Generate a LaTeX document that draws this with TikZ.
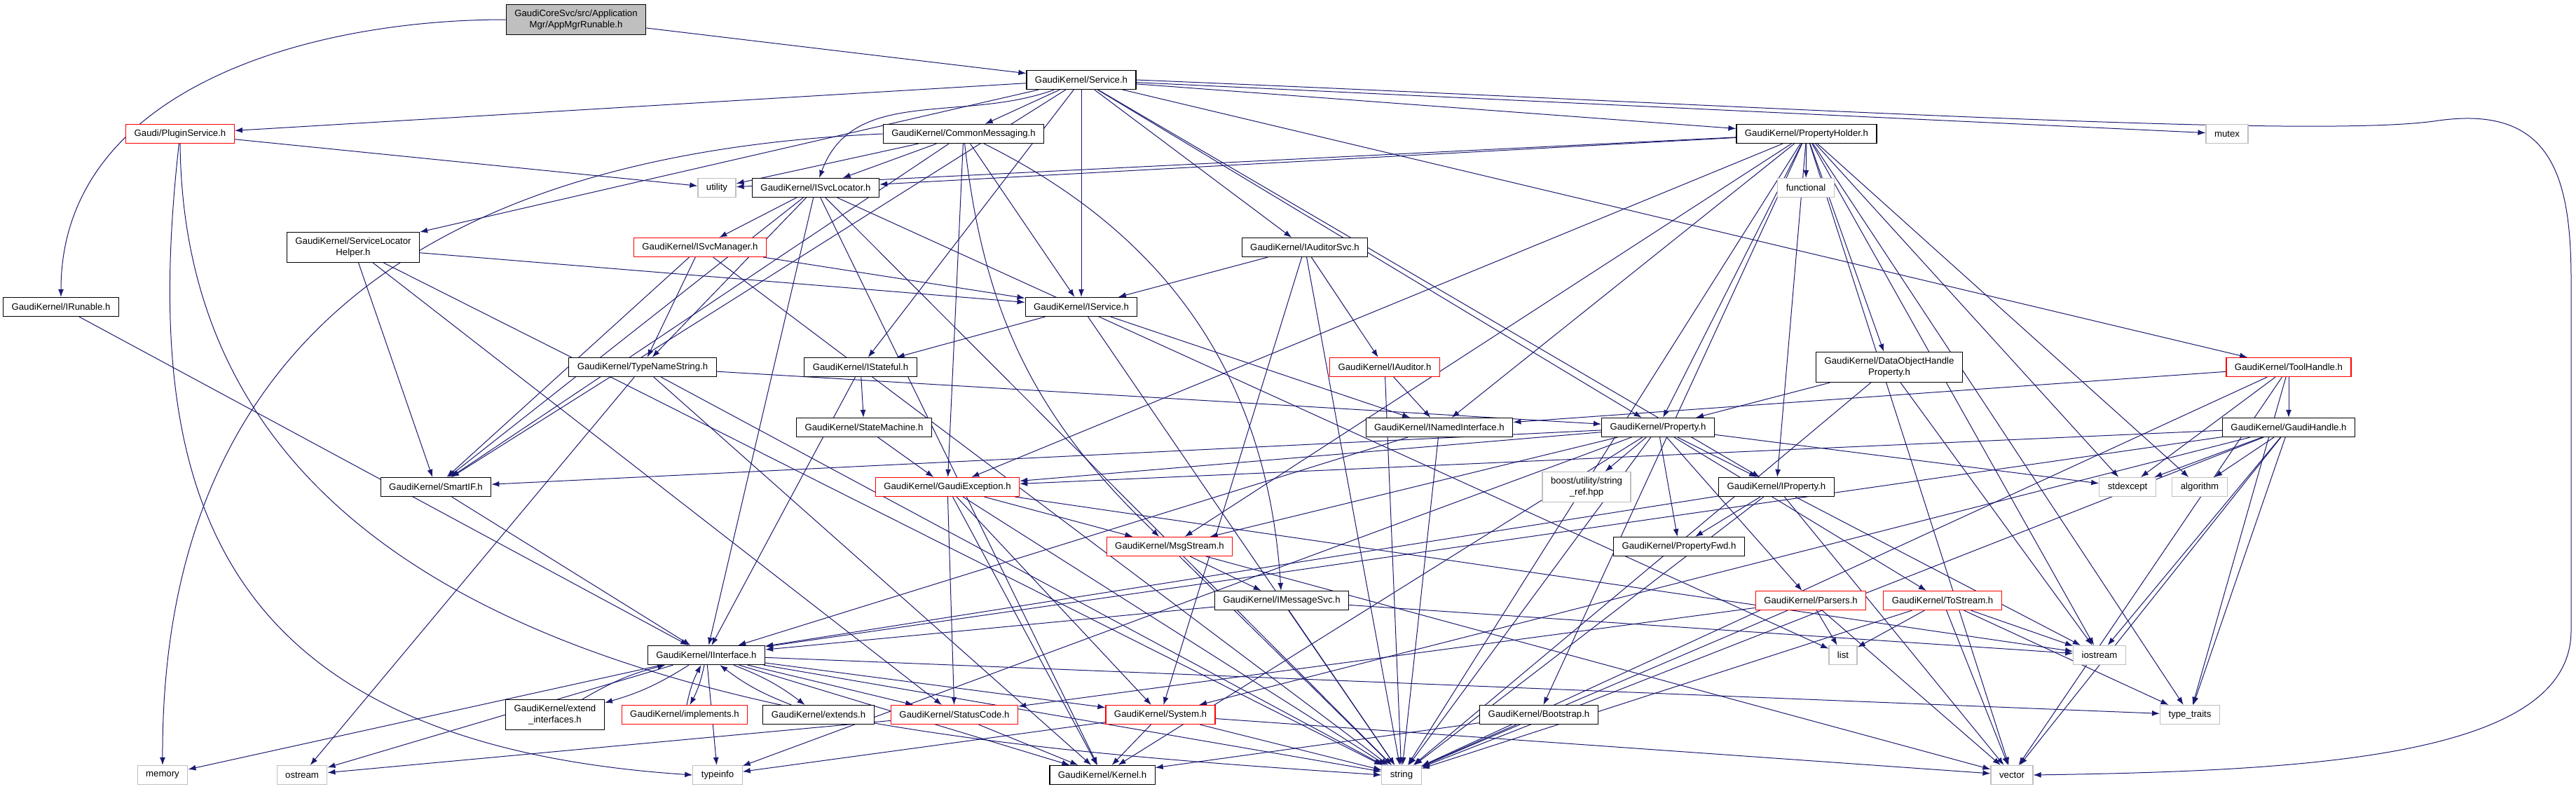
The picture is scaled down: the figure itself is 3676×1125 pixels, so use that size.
\documentclass[tikz,border=0pt]{standalone}
\usepackage{fontspec}
\setmainfont{Liberation Sans}
\usetikzlibrary{arrows.meta}
\definecolor{edgeblue}{RGB}{25,25,112}
\definecolor{boxgray}{RGB}{191,191,191}
\pgfdeclarelayer{edges}
\pgfsetlayers{edges,main}
\tikzset{
  hdr/.style={draw=black, fill=white, line width=1.2pt, inner xsep=12pt, inner ysep=2pt,
    minimum height=27pt, align=center, font=\fontsize{13.2}{16}\selectfont},
  redhdr/.style={hdr, draw=red},
  syshdr/.style={hdr, draw=boxgray},
  twoline/.style={minimum height=43pt},
  dep/.style={draw=edgeblue, line width=1pt, -{Latex[length=11pt,width=8pt]}},
}
\begin{document}
\begin{tikzpicture}[x=1pt, y=-1pt]
	\useasboundingbox (0,0) rectangle (3676,1125);
	% top of the graph
	\node[hdr, fill=boxgray, twoline] (appmgr) at (822,28) {GaudiCoreSvc/src/Application\\Mgr/AppMgrRunable.h};
	\node[hdr] (service) at (1543,114) {GaudiKernel/Service.h};
	\node[redhdr] (plugin) at (257,191) {Gaudi/PluginService.h};
	\node[hdr] (commsg) at (1375,191) {GaudiKernel/CommonMessaging.h};
	\node[hdr] (propholder) at (2578,191) {GaudiKernel/PropertyHolder.h};
	\node[syshdr] (mutex) at (3178,191) {mutex};
	\node[syshdr] (utility) at (1023,268) {utility};
	\node[hdr] (svcloc) at (1164,268) {GaudiKernel/ISvcLocator.h};
	\node[syshdr] (functional) at (2577,268) {functional};
	\node[hdr, twoline] (slhelper) at (504,353) {GaudiKernel/ServiceLocator\\Helper.h};
	\node[redhdr] (svcmgr) at (999,353) {GaudiKernel/ISvcManager.h};
	\node[hdr] (auditorsvc) at (1862,353) {GaudiKernel/IAuditorSvc.h};
	\node[hdr] (irunable) at (87,438) {GaudiKernel/IRunable.h};
	\node[hdr] (iservice) at (1543,438) {GaudiKernel/IService.h};
	% middle rows
	\node[hdr] (typename) at (917,524) {GaudiKernel/TypeNameString.h};
	\node[hdr] (istateful) at (1228,524) {GaudiKernel/IStateful.h};
	\node[redhdr] (iauditor) at (1976,524) {GaudiKernel/IAuditor.h};
	\node[hdr, twoline] (dohprop) at (2696,524) {GaudiKernel/DataObjectHandle\\Property.h};
	\node[redhdr] (toolhandle) at (3266,524) {GaudiKernel/ToolHandle.h};
	\node[hdr] (statemachine) at (1233,610) {GaudiKernel/StateMachine.h};
	\node[hdr] (namedif) at (2054,610) {GaudiKernel/INamedInterface.h};
	\node[hdr] (property) at (2366,610) {GaudiKernel/Property.h};
	\node[hdr] (gaudihandle) at (3266,610) {GaudiKernel/GaudiHandle.h};
	\node[hdr] (smartif) at (622,695) {GaudiKernel/SmartIF.h};
	\node[redhdr] (gexception) at (1352,695) {GaudiKernel/GaudiException.h};
	\node[syshdr, twoline] (boost) at (2264,695) {boost/utility/string\\\_ref.hpp};
	\node[hdr] (iproperty) at (2535,695) {GaudiKernel/IProperty.h};
	\node[syshdr] (stdexcept) at (3036,695) {stdexcept};
	\node[syshdr] (algorithm) at (3139,695) {algorithm};
	\node[redhdr] (msgstream) at (1669,780) {GaudiKernel/MsgStream.h};
	\node[hdr] (propfwd) at (2396,780) {GaudiKernel/PropertyFwd.h};
	\node[hdr] (imsgsvc) at (1829,857) {GaudiKernel/IMessageSvc.h};
	\node[redhdr] (parsers) at (2584,857) {GaudiKernel/Parsers.h};
	\node[redhdr] (tostream) at (2772,857) {GaudiKernel/ToStream.h};
	\node[hdr] (iinterface) at (1008,935) {GaudiKernel/IInterface.h};
	\node[syshdr] (list) at (2630,935) {list};
	\node[syshdr] (iostream) at (2996,935) {iostream};
	% bottom rows
	\node[hdr, twoline] (extendif) at (792,1020) {GaudiKernel/extend\\\_interfaces.h};
	\node[redhdr] (implements) at (977,1020) {GaudiKernel/implements.h};
	\node[hdr] (extends) at (1168,1020) {GaudiKernel/extends.h};
	\node[redhdr] (statuscode) at (1362,1020) {GaudiKernel/StatusCode.h};
	\node[redhdr] (system) at (1656,1020) {GaudiKernel/System.h};
	\node[hdr] (bootstrap) at (2196,1020) {GaudiKernel/Bootstrap.h};
	\node[syshdr] (typetraits) at (3125,1020) {type\_traits};
	\node[syshdr] (memory) at (232,1106) {memory};
	\node[syshdr] (ostream) at (431,1106) {ostream};
	\node[syshdr] (typeinfo) at (1024,1106) {typeinfo};
	\node[hdr] (kernel) at (1573,1106) {GaudiKernel/Kernel.h};
	\node[syshdr] (string) at (2000,1106) {string};
	\node[syshdr] (vector) at (2871,1106) {vector};

	\begin{pgfonlayer}{edges}
	\draw[dep] (appmgr) -- (service);
	\draw[dep] (appmgr.west) to[out=180,in=90] (irunable.north);
	\foreach \dst in {plugin,commsg,propholder,mutex,slhelper,iservice,auditorsvc,toolhandle,smartif,istateful,property,iproperty}
		\draw[dep] (service) -- (\dst);
	\draw[dep] (service) to[out=200,in=70] (svcloc);
	\draw[dep] (service.east) .. controls (2500,150) and (3300,200) .. (3480,172) .. controls (3640,150) and (3669,250) .. (3669,400) -- (3669,900) .. controls (3669,1080) and (3300,1100) .. (vector.east);
	\draw[dep] (plugin) -- (utility);
	\draw[dep] (plugin.south) .. controls (265,1000) and (1300,1060) .. (string.west);
	\draw[dep] (plugin) .. controls (200,700) and (300,1060) .. (typeinfo.west);
	\foreach \dst in {utility,svcloc,iservice,gexception,smartif}
		\draw[dep] (commsg) -- (\dst);
	\draw[dep] (commsg) to[bend right=20] (msgstream);
	\draw[dep] (commsg) to[bend left=30] (imsgsvc);
	\draw[dep] (commsg.west) .. controls (600,220) and (230,500) .. (memory.north);
	\foreach \dst in {utility,svcloc,functional,namedif,property,dohprop,iproperty,iostream,stdexcept,algorithm,vector,string,typetraits,bootstrap,msgstream,gexception}
		\draw[dep] (propholder) -- (\dst);
	\foreach \dst in {svcmgr,typename,smartif,iinterface,kernel,string,list}
		\draw[dep] (svcloc) -- (\dst);
	\foreach \dst in {iservice,smartif,statuscode,string}
		\draw[dep] (slhelper) -- (\dst);
	\foreach \dst in {iservice,smartif,typename,string}
		\draw[dep] (svcmgr) -- (\dst);
	\foreach \dst in {iservice,iauditor,string,system}
		\draw[dep] (auditorsvc) -- (\dst);
	\draw[dep] (irunable) -- (iinterface);
	\foreach \dst in {namedif,istateful,string}
		\draw[dep] (iservice) -- (\dst);
	\foreach \dst in {property,ostream,kernel,string}
		\draw[dep] (typename) -- (\dst);
	\foreach \dst in {statemachine,iinterface}
		\draw[dep] (istateful) -- (\dst);
	\foreach \dst in {namedif,string}
		\draw[dep] (iauditor) -- (\dst);
	\foreach \dst in {property,iostream,string}
		\draw[dep] (dohprop) -- (\dst);
	\foreach \dst in {namedif,gaudihandle,stdexcept,typetraits,vector,string}
		\draw[dep] (toolhandle) -- (\dst);
	\draw[dep] (statemachine) -- (gexception);
	\foreach \dst in {iinterface,string}
		\draw[dep] (namedif) -- (\dst);
	\foreach \dst in {iproperty,propfwd,boost,smartif,gexception,parsers,tostream,stdexcept,string,typeinfo,kernel,msgstream}
		\draw[dep] (property) -- (\dst);
	\foreach \dst in {gexception,stdexcept,algorithm,iinterface,iostream,typetraits,vector,string,system}
		\draw[dep] (gaudihandle) -- (\dst);
	\draw[dep] (smartif) -- (iinterface);
	\foreach \dst in {msgstream,statuscode,system,kernel,string,iostream}
		\draw[dep] (gexception) -- (\dst);
	\foreach \dst in {propfwd,iinterface,string,vector,iostream}
		\draw[dep] (iproperty) -- (\dst);
	\foreach \dst in {imsgsvc,string,vector}
		\draw[dep] (msgstream) -- (\dst);
	\foreach \dst in {iinterface,string,iostream}
		\draw[dep] (imsgsvc) -- (\dst);
	\foreach \dst in {statuscode,list,string,vector}
		\draw[dep] (parsers) -- (\dst);
	\foreach \dst in {list,iostream,typetraits,vector,string}
		\draw[dep] (tostream) -- (\dst);
	\foreach \dst in {extendif,implements,extends}{
		\draw[dep] (iinterface) to[bend left=8] (\dst);
		\draw[dep] (\dst) to[bend left=8] (iinterface);
	}
	\foreach \dst in {statuscode,system,kernel,ostream,typeinfo,string,typetraits,memory}
		\draw[dep] (iinterface) -- (\dst);
	\foreach \dst in {kernel,ostream}
		\draw[dep] (statuscode) -- (\dst);
	\foreach \dst in {kernel,typeinfo,string,vector}
		\draw[dep] (system) -- (\dst);
	\foreach \dst in {kernel,string}
		\draw[dep] (bootstrap) -- (\dst);
	\end{pgfonlayer}
\end{tikzpicture}
\end{document}
